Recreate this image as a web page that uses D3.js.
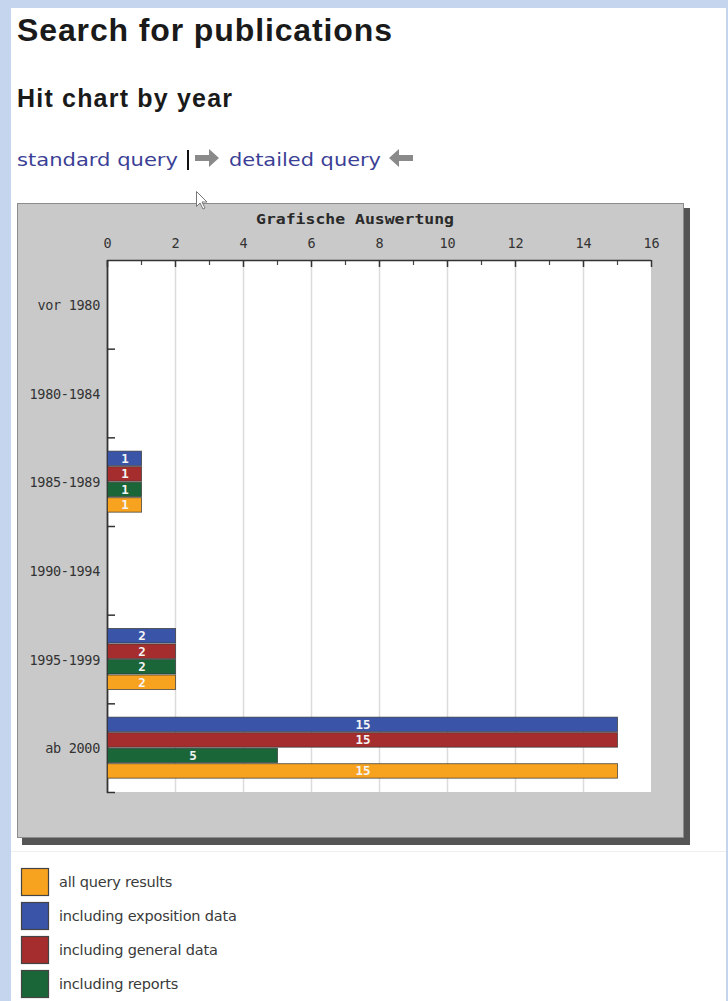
<!DOCTYPE html>
<html><head><meta charset="utf-8">
<script src="https://cdn.jsdelivr.net/npm/d3@7"></script>
<style>
html,body{margin:0;padding:0;background:#c6d5ee;}
svg{display:block;}
</style></head>
<body>
<svg id="c" width="728" height="1001"></svg>
<script>
const categories = ["vor 1980","1980-1984","1985-1989","1990-1994","1995-1999","ab 2000"];
const seriesNames = ["including exposition data","including general data","including reports","all query results"];
const exposition = [0,0,1,0,2,15];
const general    = [0,0,1,0,2,15];
const reports    = [0,0,1,0,2,5];
const allResults = [0,0,1,0,2,15];
const seriesValues = [exposition, general, reports, allResults];
const seriesColors = ["#3a55a8","#a62d2e","#1b6638","#f8a31f"];
const xTicks = [0,2,4,6,8,10,12,14,16];
const legendOrder = [3,0,1,2];

const MONO = "DejaVu Sans Mono, monospace";
const svg = d3.select("#c");
// white page area
svg.append("rect").attr("x",11).attr("y",8).attr("width",715).attr("height",1001).attr("fill","#fff");

// headings
svg.append("text").attr("x",17).attr("y",41).attr("font-family","Liberation Sans, Arial").attr("font-weight","bold")
  .attr("font-size",32).attr("fill","#1a1a1a").attr("textLength",375).attr("lengthAdjust","spacing").text("Search for publications");
svg.append("text").attr("x",17).attr("y",107).attr("font-family","Liberation Sans, Arial").attr("font-weight","bold")
  .attr("font-size",25).attr("fill","#1a1a1a").attr("textLength",215).attr("lengthAdjust","spacing").text("Hit chart by year");

// links line
const linkG = svg.append("g").attr("font-family","DejaVu Sans, Verdana").attr("font-size",18);
linkG.append("text").attr("x",17).attr("y",166).attr("fill","#3b3f96").attr("textLength",161).attr("lengthAdjust","spacingAndGlyphs").text("standard query");
linkG.append("rect").attr("x",187).attr("y",150).attr("width",2).attr("height",20).attr("fill","#111");
// right arrow (gray)
linkG.append("path").attr("d","M195,155 h14 v-6 l10,9 l-10,9 v-6 h-14 z").attr("fill","#8a8a8a");
linkG.append("text").attr("x",229).attr("y",166).attr("fill","#3b3f96").attr("textLength",152).attr("lengthAdjust","spacingAndGlyphs").text("detailed query");
// left arrow
linkG.append("path").attr("d","M413,155 h-14 v-6 l-10,9 l10,9 v-6 h14 z").attr("fill","#8a8a8a");

// chart panel with shadow
svg.append("rect").attr("x",22).attr("y",208).attr("width",668).attr("height",637).attr("fill","#555");
svg.append("rect").attr("x",17.5).attr("y",203.5).attr("width",666).attr("height",634).attr("fill","#c9c9c9").attr("stroke","#8c8c8c").attr("stroke-width",1);

const x = d3.scaleLinear().domain([0,16]).range([107,651]);
const y = d3.scaleBand().domain(categories).range([260,792]);
const ys = d3.scaleBand().domain(d3.range(seriesNames.length)).range([0,y.bandwidth()]).paddingOuter(0.86);

// plot background
svg.append("rect").attr("x",x(0)).attr("y",260).attr("width",x(16)-x(0)).attr("height",532).attr("fill","#fff");

// grid
svg.append("g").selectAll("line").data(xTicks.filter(d=>d>0&&d<16)).join("line")
  .attr("x1",d=>x(d)+0.5).attr("x2",d=>x(d)+0.5).attr("y1",260).attr("y2",792)
  .attr("stroke","#dcdcdc").attr("stroke-width",1.5);

// title
svg.append("text").attr("x",355).attr("y",224).attr("text-anchor","middle")
  .attr("font-family",MONO).attr("font-weight","bold").attr("font-size",14).attr("fill","#2a2a2a")
  .attr("textLength",198).attr("lengthAdjust","spacingAndGlyphs").text("Grafische Auswertung");

// top axis
const xAxis = d3.axisTop(x).tickValues(xTicks).tickSize(0).tickPadding(0).tickFormat(d3.format("d"));
const gx = svg.append("g").attr("transform","translate(0,260)").call(xAxis);
gx.select(".domain").remove();
gx.selectAll("text").attr("y",-12).attr("dy",0).attr("font-family",MONO).attr("font-size",13.5).attr("fill","#333");
// major ticks
svg.append("g").selectAll("line").data(xTicks).join("line")
  .attr("x1",d=>x(d)+0.5).attr("x2",d=>x(d)+0.5).attr("y1",260).attr("y2",267)
  .attr("stroke","#333").attr("stroke-width",1.5);
// minor ticks
svg.append("g").selectAll("line").data(d3.range(1,16,2)).join("line")
  .attr("x1",d=>x(d)+0.5).attr("x2",d=>x(d)+0.5).attr("y1",260).attr("y2",265)
  .attr("stroke","#444").attr("stroke-width",1.2);
svg.append("line").attr("x1",x(0)).attr("x2",x(16)).attr("y1",260.5).attr("y2",260.5).attr("stroke","#333").attr("stroke-width",1.5);

// left axis
const yAxis = d3.axisLeft(y).tickSize(0).tickPadding(7);
const gy = svg.append("g").attr("transform",`translate(${x(0)},0)`).call(yAxis);
gy.select(".domain").remove();
gy.selectAll("text").attr("dy","0.35em").attr("transform","translate(0,1)").attr("font-family",MONO).attr("font-size",13.5).attr("letter-spacing","-0.3").attr("fill","#333");
const bounds = categories.map(c=>y(c)).slice(1).concat([792]);
svg.append("g").selectAll("line").data(bounds).join("line")
  .attr("x1",x(0)).attr("x2",x(0)+8).attr("y1",d=>d+0.5).attr("y2",d=>d+0.5)
  .attr("stroke","#333").attr("stroke-width",1.5);
svg.append("line").attr("x1",x(0)+0.5).attr("x2",x(0)+0.5).attr("y1",260).attr("y2",793).attr("stroke","#333").attr("stroke-width",1.8);

// bars
const barData = [];
categories.forEach((c,i)=>seriesValues.forEach((vals,s)=>barData.push({c,s,v:vals[i]})));
const bars = svg.append("g").selectAll("g").data(barData.filter(d=>d.v>0)).join("g");
bars.append("rect")
  .attr("x",x(0)+0.5).attr("y",d=>y(d.c)+ys(d.s)+0.5)
  .attr("width",d=>x(d.v)-x(0)).attr("height",ys.bandwidth()-1)
  .attr("fill",d=>seriesColors[d.s]).attr("stroke","#333").attr("stroke-opacity",0.7).attr("stroke-width",1);
bars.append("text")
  .attr("x",d=>(x(0)+x(d.v))/2+1).attr("y",d=>y(d.c)+ys(d.s)+ys.bandwidth()/2+4.5)
  .attr("text-anchor","middle").attr("font-family",MONO).attr("font-weight","bold")
  .attr("font-size",12.5).attr("fill","#f4f4f4").text(d=>d.v);

// faint line under chart
svg.append("line").attr("x1",11).attr("x2",726).attr("y1",851.5).attr("y2",851.5).attr("stroke","#eee");

// legend
const lg = svg.append("g").selectAll("g").data(legendOrder).join("g")
  .attr("transform",(d,i)=>`translate(21,${868+i*34})`);
lg.append("rect").attr("x",0.5).attr("y",0.5).attr("width",27).attr("height",27)
  .attr("fill",d=>seriesColors[d]).attr("stroke","#444").attr("stroke-width",1.2);
lg.append("text").attr("x",38).attr("y",19).attr("font-family","DejaVu Sans, Verdana").attr("font-size",14.5)
  .attr("fill","#3a3a3a").attr("letter-spacing","-0.2").text(d=>seriesNames[d]);

// mouse cursor
svg.append("path").attr("d","M196.5,191.5 v15 l3.5,-3.5 l3,6 l2,-1 l-3,-6 h5 z")
  .attr("fill","#fff").attr("stroke","#777").attr("stroke-width",1);
</script>
</body></html>
